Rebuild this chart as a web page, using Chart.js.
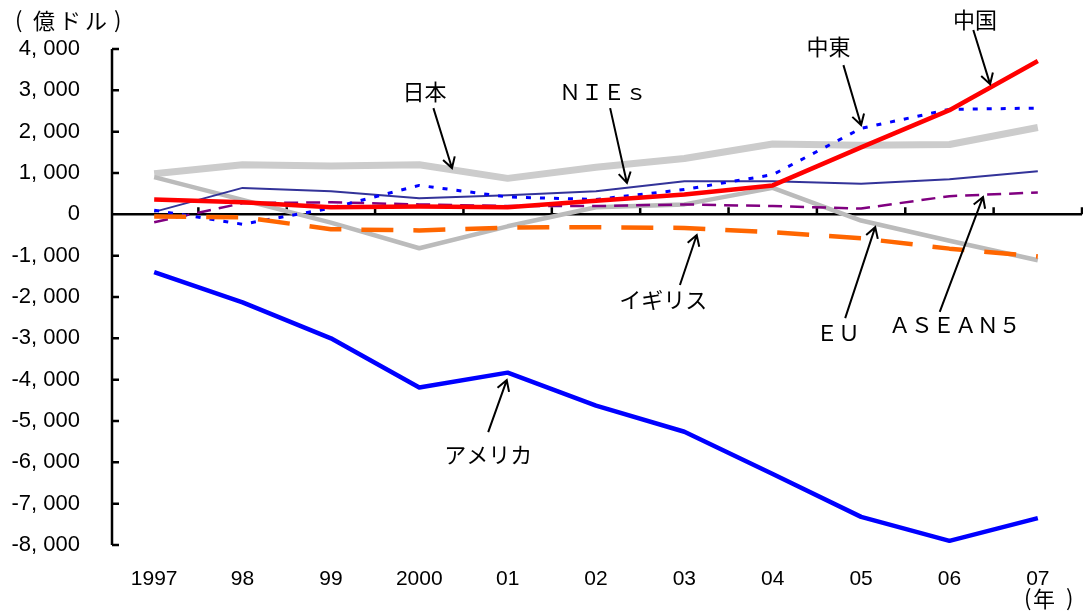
<!DOCTYPE html>
<html lang="ja">
<head>
    <meta charset="UTF-8" />
    <title>経常収支の推移</title>
    <script src="https://cdn.jsdelivr.net/npm/chart.js"></script>
    <style>
        body { margin: 0; background: #fff; }
        canvas { display: block; }
    </style>
</head>
<body>
    <canvas id="chart" width="1083" height="614"></canvas>

    <script>
        // 年（カテゴリ）
        const years = ['1997', '98', '99', '2000', '01', '02', '03', '04', '05', '06', '07'];

        // 経常収支（億ドル）— 図から読み取った値
        const china      = [360, 290, 170, 190, 170, 330, 480, 700, 1620, 2520, 3710];
        const uk         = [-50, -70, -360, -390, -320, -310, -330, -430, -580, -830, -1020];
        const middleEast = [100, -240, 150, 700, 420, 360, 600, 960, 2080, 2540, 2570];
        const asean5     = [-190, 270, 290, 240, 200, 200, 240, 200, 140, 440, 530];
        const nies       = [60, 640, 560, 390, 460, 560, 800, 800, 740, 850, 1040];
        const america    = [-1400, -2130, -3000, -4190, -3830, -4630, -5260, -6280, -7320, -7900, -7350];
        const eu         = [900, 350, -200, -820, -290, 170, 240, 640, -150, -640, -1110];
        const japan      = [980, 1200, 1170, 1200, 870, 1140, 1350, 1700, 1670, 1690, 2100];

        // 目盛り
        const yMin = -8000;
        const yMax = 4000;
        const yStep = 1000;

        // 注記（データ座標: x=年の番号, y=億ドル）
        const notes = [
            { text: '日本',       tx: 3.06, ty: 2960,  x1: 3.16, y1: 2570,  x2: 3.37, y2: 1120 },
            { text: 'ＮＩＥｓ',   tx: 5.08, ty: 2960,  x1: 5.16, y1: 2570,  x2: 5.35, y2: 760 },
            { text: '中東',       tx: 7.63, ty: 4045,  x1: 7.80, y1: 3610,  x2: 8.00, y2: 2160 },
            { text: '中国',       tx: 9.29, ty: 4700,  x1: 9.27, y1: 4460,  x2: 9.46, y2: 3150 },
            { text: 'イギリス',   tx: 5.76, ty: -2070, x1: 5.95, y1: -1710, x2: 6.14, y2: -500 },
            { text: 'ＥＵ',       tx: 7.74, ty: -2870, x1: 7.82, y1: -2510, x2: 8.16, y2: -310 },
            { text: 'ＡＳＥＡＮ５', tx: 9.06, ty: -2680, x1: 8.89, y1: -2360, x2: 9.38, y2: 420 },
            { text: 'アメリカ',   tx: 3.78, ty: -5820, x1: 3.78, y1: -5270, x2: 3.99, y2: -4010 }
        ];

        const jpFont = '"Noto Sans CJK JP", sans-serif';

        // 軸線・注記を描くプラグイン
        const notesPlugin = {
            id: 'notes',
            beforeDatasetsDraw(chart) {
                const { ctx, chartArea: a, scales: { y } } = chart;
                const w = (a.right - a.left) / years.length;
                ctx.save();
                ctx.strokeStyle = '#000';
                ctx.lineWidth = 2.5;
                // 縦軸
                const ax = a.left + 2;
                ctx.beginPath();
                ctx.moveTo(ax, y.getPixelForValue(yMax));
                ctx.lineTo(ax, y.getPixelForValue(yMin));
                for (let v = yMin; v <= yMax; v += yStep) {
                    const py = y.getPixelForValue(v);
                    ctx.moveTo(ax, py);
                    ctx.lineTo(ax + 7, py);
                }
                // ゼロ線と目盛り
                const y0 = y.getPixelForValue(0);
                ctx.moveTo(ax, y0);
                ctx.lineTo(a.right, y0);
                for (let i = 1; i <= years.length; i++) {
                    const px = a.left + i * w;
                    ctx.moveTo(px, y0);
                    ctx.lineTo(px, y0 - 7);
                }
                ctx.stroke();
                ctx.restore();
            },
            afterDatasetsDraw(chart) {
                const { ctx, scales: { x, y } } = chart;
                const px = v => x.getPixelForValue(0) + v * (x.getPixelForValue(1) - x.getPixelForValue(0));
                ctx.save();
                ctx.fillStyle = '#000';
                ctx.strokeStyle = '#000';
                ctx.lineWidth = 2;
                ctx.font = '22px ' + jpFont;
                ctx.textAlign = 'center';
                ctx.textBaseline = 'middle';
                notes.forEach(n => {
                    ctx.fillText(n.text, px(n.tx), y.getPixelForValue(n.ty));
                    const ax = px(n.x1), ay = y.getPixelForValue(n.y1);
                    const bx = px(n.x2), by = y.getPixelForValue(n.y2);
                    const ang = Math.atan2(by - ay, bx - ax);
                    ctx.beginPath();
                    ctx.moveTo(ax, ay);
                    ctx.lineTo(bx, by);
                    ctx.moveTo(bx + 12 * Math.cos(ang + Math.PI * 0.83), by + 12 * Math.sin(ang + Math.PI * 0.83));
                    ctx.lineTo(bx, by);
                    ctx.lineTo(bx + 12 * Math.cos(ang - Math.PI * 0.83), by + 12 * Math.sin(ang - Math.PI * 0.83));
                    ctx.stroke();
                });
                // 単位
                ctx.textAlign = 'left';
                ctx.fillText('(', 15, 20);
                ['億', 'ド', 'ル'].forEach((c, i) => ctx.fillText(c, 33 + i * 26, 21));
                ctx.fillText(')', 114, 20);
                ctx.fillText('(', 1024, 598);
                ctx.fillText('年', 1033, 599);
                ctx.fillText(')', 1066, 598);
                ctx.restore();
            }
        };

        function line(label, data, color, width, dash) {
            return {
                label: label,
                data: data,
                borderColor: color,
                borderWidth: width,
                borderDash: dash || [],
                borderJoinStyle: 'round',
                pointRadius: 0,
                fill: false,
                tension: 0
            };
        }

        const ctx = document.getElementById('chart').getContext('2d');
        const chart = new Chart(ctx, {
            type: 'line',
            data: {
                labels: years,
                // 先頭ほど手前に描かれる
                datasets: [
                    line('中国', china, '#FF0000', 4.5),
                    line('イギリス', uk, '#FF6600', 4.5, [32, 20]),
                    line('中東', middleEast, '#0000FF', 3, [5, 9]),
                    line('ASEAN5', asean5, '#800080', 2.5, [14, 8]),
                    line('NIEs', nies, '#333399', 2),
                    line('アメリカ', america, '#0000FF', 4.5),
                    line('EU', eu, '#BBBBBB', 4.5),
                    line('日本', japan, '#CCCCCC', 7)
                ]
            },
            options: {
                responsive: false,
                devicePixelRatio: 1,
                animation: false,
                layout: { padding: { top: 49, right: 1, left: 0, bottom: 0 } },
                plugins: {
                    legend: { display: false },
                    tooltip: { enabled: false }
                },
                scales: {
                    x: {
                        offset: true,
                        grid: { display: false, drawTicks: false },
                        border: { display: false },
                        ticks: {
                            color: '#000',
                            padding: 22,
                            maxRotation: 0,
                            autoSkip: false,
                            font: { family: '"Liberation Sans", Arial, sans-serif', size: 21 }
                        },
                        afterFit: s => { s.height = 69; }
                    },
                    y: {
                        min: yMin,
                        max: yMax,
                        grid: { display: false, drawTicks: false },
                        border: { display: false },
                        ticks: {
                            stepSize: yStep,
                            color: '#000',
                            padding: 30,
                            font: { family: '"Liberation Sans", Arial, sans-serif', size: 22 },
                            callback: v => (v < 0 ? '-' : '') + (Math.abs(v) >= 1000
                                ? Math.floor(Math.abs(v) / 1000) + ', 000'
                                : String(Math.abs(v)))
                        },
                        afterFit: s => { s.width = 110; }
                    }
                }
            },
            plugins: [notesPlugin]
        });
    </script>
</body>
</html>
